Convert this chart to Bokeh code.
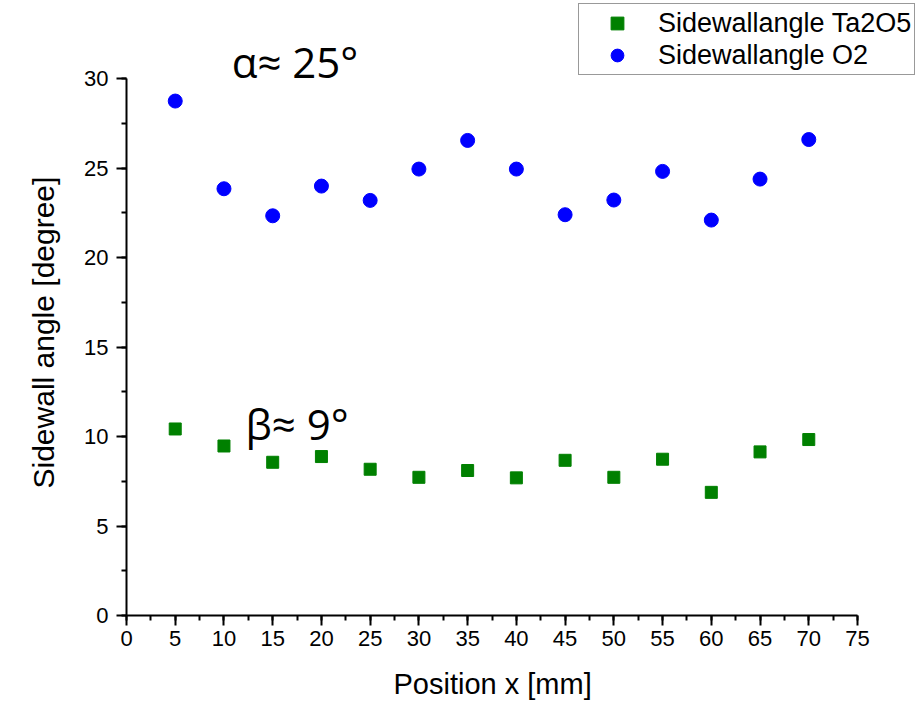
from bokeh.plotting import figure
from bokeh.models import Label, Legend, LegendItem, SingleIntervalTicker, Range1d, Title
from bokeh.embed import file_html
from bokeh.resources import INLINE

# Measurement positions along the wafer [mm]
position_mm = [5, 10, 15, 20, 25, 30, 35, 40, 45, 50, 55, 60, 65, 70]

# Sidewall angles [degree]
angle_ta2o5 = [10.42, 9.47, 8.56, 8.88, 8.17, 7.72, 8.10, 7.69, 8.67, 7.72, 8.73, 6.88, 9.14, 9.83]
angle_o2 = [28.74, 23.84, 22.33, 23.99, 23.19, 24.94, 26.54, 24.94, 22.39, 23.21, 24.81, 22.09, 24.38, 26.59]

series_labels = ["Sidewallangle Ta2O5", "Sidewallangle O2"]
x_title = "Position x [mm]"
y_title = "Sidewall angle [degree]"
alpha_text = "α≈ 25°"
beta_text = "β≈ 9°"

AXIS_FONT = "Liberation Sans"

# The frame runs to the top/right edges so that the annotations above the
# axes and the legend are not clipped; axis lines stop at the data limits.
X_MAX, Y_MAX = 75, 30
FRAME_W, FRAME_H = 797, 615
AXES_W, AXES_H = 731, 537
X_END = X_MAX * FRAME_W / AXES_W
Y_END = Y_MAX * FRAME_H / AXES_H

p = figure(
    width=923, height=703,
    frame_width=FRAME_W, frame_height=FRAME_H,
    x_range=Range1d(0, X_END), y_range=Range1d(0, Y_END),
    output_backend="svg", toolbar_location=None,
    min_border_left=126, min_border_right=0,
    min_border_top=0, min_border_bottom=88,
)
p.outline_line_color = None
p.xgrid.visible = False
p.ygrid.visible = False

sq = p.scatter(position_mm, angle_ta2o5, marker="square", size=12,
               fill_color="#008000", line_color="#008000")
ci = p.scatter(position_mm, angle_o2, marker="circle", size=14,
               fill_color="#0000ff", line_color="#0000ff")

for ax, bounds in ((p.xaxis[0], (0, X_MAX)), (p.yaxis[0], (0, Y_MAX))):
    ax.bounds = bounds
    ax.ticker = SingleIntervalTicker(interval=5, num_minor_ticks=2)
    ax.axis_line_width = 2
    ax.axis_line_color = "black"
    ax.major_tick_line_width = 2
    ax.major_tick_line_color = "black"
    ax.minor_tick_line_width = 2
    ax.minor_tick_line_color = "black"
    ax.major_tick_out = 10
    ax.major_tick_in = 0
    ax.minor_tick_out = 5
    ax.minor_tick_in = 0
    ax.major_label_text_font = AXIS_FONT
    ax.major_label_text_font_size = "22px"
    ax.major_label_text_color = "black"

p.xaxis.major_label_standoff = 5
p.yaxis.major_label_standoff = 8

# Axis titles placed under the 0..75 / beside the 0..30 axis spans
p.add_layout(Title(text=x_title, align="left", offset=267, standoff=35,
                   text_font=AXIS_FONT, text_font_size="29px",
                   text_font_style="normal", text_color="black"), "below")
p.add_layout(Title(text=y_title, align="left", offset=127, standoff=44,
                   text_font=AXIS_FONT, text_font_size="30px",
                   text_font_style="normal", text_color="black"), "left")

legend = Legend(
    items=[LegendItem(label=series_labels[0], renderers=[sq]),
           LegendItem(label=series_labels[1], renderers=[ci])],
    location=(452, 540),
    orientation="vertical",
    padding=3, margin=0, spacing=0,
    glyph_width=70, glyph_height=32,
    label_height=32, label_standoff=6,
    label_text_font=AXIS_FONT, label_text_font_size="27px",
    label_text_color="black",
    border_line_color="#333333", border_line_width=1,
    background_fill_color="white", background_fill_alpha=1,
)
p.add_layout(legend, "center")

p.add_layout(Label(x=10.8, y=30.93, text=alpha_text, text_font="Open Sans",
                   text_font_size="42px", text_color="black",
                   text_baseline="alphabetic", text_align="left"))
p.add_layout(Label(x=12.2, y=10.70, text=beta_text, text_font="Open Sans",
                   text_font_size="42px", text_color="black",
                   text_baseline="alphabetic", text_align="left"))

open("out.html", "w").write(file_html(p, INLINE))
